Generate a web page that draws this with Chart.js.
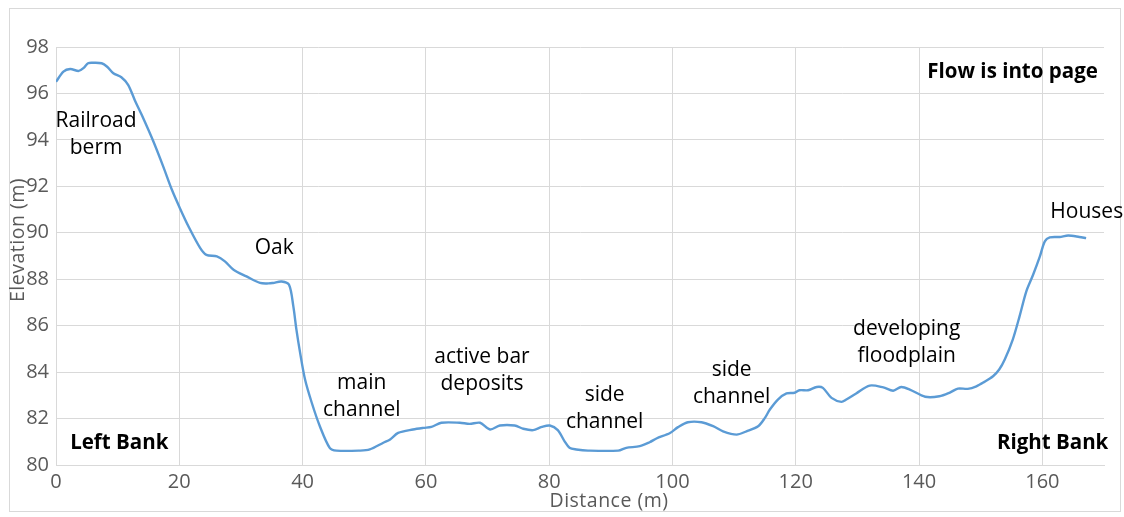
<!DOCTYPE html>
<html>
<head>
<meta charset="utf-8">
<script src="https://cdn.jsdelivr.net/npm/chart.js@4/dist/chart.umd.min.js"></script>
<style>
  html, body { margin: 0; padding: 0; background: #fff; }
  #wrap { width: 1124px; height: 517px; position: relative; }
</style>
</head>
<body>
<div id="wrap"><canvas id="profile"></canvas></div>
<script>
// Cross-section survey, distance (m) vs elevation (m)
const distance = [
  0, 1.2, 2.3, 3.7, 4.5, 5.2, 6, 7.4, 8.3, 9.3, 10.6, 11.7, 12.8, 13.9, 15.8,
  17.4, 18.8, 20.1, 21.5, 23.4, 24.4, 26.1, 27.4, 28.8, 30.9, 33.1, 34.5, 35.2,
  36.6, 37.8, 38.5, 39, 39.6, 40.4, 41.5, 42.8, 44.4, 45.5, 49.3, 50.9, 53.1,
  54.2, 55.5, 57.9, 59.6, 60.9, 62.5, 65.5, 67.1, 68.8, 70.4, 72, 74.4, 75.8,
  77.4, 78.8, 80.1, 81.4, 82.5, 83.3, 84.4, 86.3, 91.2, 92.5, 94.7, 96.3, 97.4,
  99.6, 100.9, 102.5, 104.7, 106.6, 108.2, 110.4, 112, 113.9, 115, 115.8, 117.1,
  118.5, 119.8, 120.6, 122, 123.4, 124.4, 125.8, 127.4, 128.2, 129.8, 132,
  134.2, 135.8, 137.1, 138.5, 141, 143.3, 145, 146.3, 147.9, 149.3, 150.6, 152,
  153, 153.9, 155.2, 156.3, 157.4, 158.5, 159.6, 160.4, 161.2, 162.8, 164.2,
  166, 167.1,
]
const elevation = [
  96.5, 96.94, 97.05, 96.97, 97.1, 97.3, 97.32, 97.3, 97.15, 96.87, 96.7, 96.37,
  95.7, 95.08, 93.93, 92.85, 91.85, 91.06, 90.27, 89.34, 89.05, 88.98, 88.77,
  88.41, 88.12, 87.84, 87.82, 87.84, 87.9, 87.76, 86.83, 85.83, 84.83, 83.68,
  82.67, 81.67, 80.74, 80.62, 80.62, 80.67, 80.96, 81.1, 81.38, 81.53, 81.6,
  81.64, 81.82, 81.82, 81.77, 81.82, 81.53, 81.7, 81.7, 81.56, 81.5, 81.64, 81.7,
  81.5, 81.02, 80.74, 80.67, 80.62, 80.62, 80.74, 80.81, 80.98, 81.14, 81.38,
  81.63, 81.84, 81.84, 81.67, 81.45, 81.31, 81.45, 81.67, 82.03, 82.39, 82.82,
  83.08, 83.11, 83.22, 83.22, 83.36, 83.32, 82.89, 82.72, 82.82, 83.08, 83.42,
  83.34, 83.2, 83.36, 83.25, 82.94, 82.96, 83.12, 83.29, 83.28, 83.39, 83.58,
  83.82, 84.11, 84.54, 85.4, 86.4, 87.48, 88.19, 88.98, 89.63, 89.8, 89.82,
  89.88, 89.82, 89.77,
]
const xTicks = [0, 20, 40, 60, 80, 100, 120, 140, 160]
const yTicks = [80, 82, 84, 86, 88, 90, 92, 94, 96, 98]

// annotation text; anchors are in data units
const notes = [
  { lines: ['Railroad', 'berm'], x: 6.5, y: 94.8 },
  { lines: ['Oak'], x: 35.4, y: 89.33 },
  { lines: ['main', 'channel'], x: 49.6, y: 83.55 },
  { lines: ['active bar', 'deposits'], x: 69.1, y: 84.65 },
  { lines: ['side', 'channel'], x: 89.0, y: 83.03 },
  { lines: ['side', 'channel'], x: 109.6, y: 84.1 },
  { lines: ['developing', 'floodplain'], x: 138.0, y: 85.85 },
  { lines: ['Houses'], x: 167.2, y: 90.9 },
]
const boldNotes = [
  { text: 'Flow is into page', x: 169.0, y: 96.92, align: 'right' },
  { text: 'Left Bank', x: 2.3, y: 80.92, align: 'left' },
  { text: 'Right Bank', x: 170.7, y: 80.92, align: 'right' },
]

const GRID = '#d9d9d9'
const TICK = '#595959'
const FONT = '"Open Sans", "Noto Sans", sans-serif'

const decorations = {
  id: 'decorations',
  beforeDraw(chart) {
    const { ctx } = chart
    ctx.save()
    ctx.fillStyle = '#fff'
    ctx.fillRect(0, 0, chart.width, chart.height)
    ctx.strokeStyle = GRID
    ctx.lineWidth = 1
    ctx.strokeRect(9.5, 8.5, 1111, 503)
    ctx.restore()
  },
  afterDraw(chart) {
    const { ctx, scales: { x, y } } = chart
    ctx.save()
    ctx.fillStyle = '#000'
    ctx.textAlign = 'center'
    ctx.textBaseline = 'middle'
    ctx.font = '21px ' + FONT
    notes.forEach((n) => {
      const px = x.getPixelForValue(n.x)
      const py = y.getPixelForValue(n.y)
      n.lines.forEach((line, i) => ctx.fillText(line, px, py + i * 27))
    })
    ctx.font = 'bold 20.5px ' + FONT
    boldNotes.forEach((n) => {
      ctx.textAlign = n.align
      ctx.fillText(n.text, x.getPixelForValue(n.x), y.getPixelForValue(n.y))
    })

    // axis titles
    ctx.fillStyle = TICK
    ctx.font = '19.5px ' + FONT
    ctx.textAlign = 'center'
    ctx.letterSpacing = '0.5px'
    ctx.fillText('Distance (m)', 609, 501)
    ctx.translate(18, 240)
    ctx.rotate(-Math.PI / 2)
    ctx.fillText('Elevation (m)', 0, 0)
    ctx.restore()
  },
}

new Chart(document.getElementById('profile'), {
  type: 'line',
  data: {
    datasets: [
      {
        data: distance.map((d, i) => ({ x: d, y: elevation[i] })),
        borderColor: '#5b9bd5',
        borderWidth: 2.4,
        pointRadius: 0,
        tension: 0.3,
        fill: false,
      },
    ],
  },
  options: {
    responsive: true,
    maintainAspectRatio: false,
    animation: false,
    layout: {
      padding: { top: 47, right: 20, left: 0, bottom: 0 },
    },
    plugins: {
      legend: { display: false },
      tooltip: { enabled: false },
    },
    scales: {
      x: {
        type: 'linear',
        min: 0,
        max: 170,
        afterFit: (scale) => { scale.height = 52 },
        afterBuildTicks: (scale) => {
          scale.ticks = xTicks.map((v) => ({ value: v }))
        },
        grid: { color: GRID, lineWidth: 1, drawTicks: false },
        border: { color: GRID },
        ticks: {
          color: TICK,
          padding: 5,
          maxRotation: 0,
          font: { family: FONT, size: 20 },
        },
      },
      y: {
        min: 80,
        max: 98,
        afterFit: (scale) => { scale.width = 56 },
        afterBuildTicks: (scale) => {
          scale.ticks = yTicks.map((v) => ({ value: v }))
        },
        grid: { color: GRID, lineWidth: 1, drawTicks: false },
        border: { color: GRID },
        ticks: {
          color: TICK,
          padding: 7,
          font: { family: FONT, size: 20 },
        },
      },
    },
  },
  plugins: [decorations],
})
</script>
</body>
</html>
